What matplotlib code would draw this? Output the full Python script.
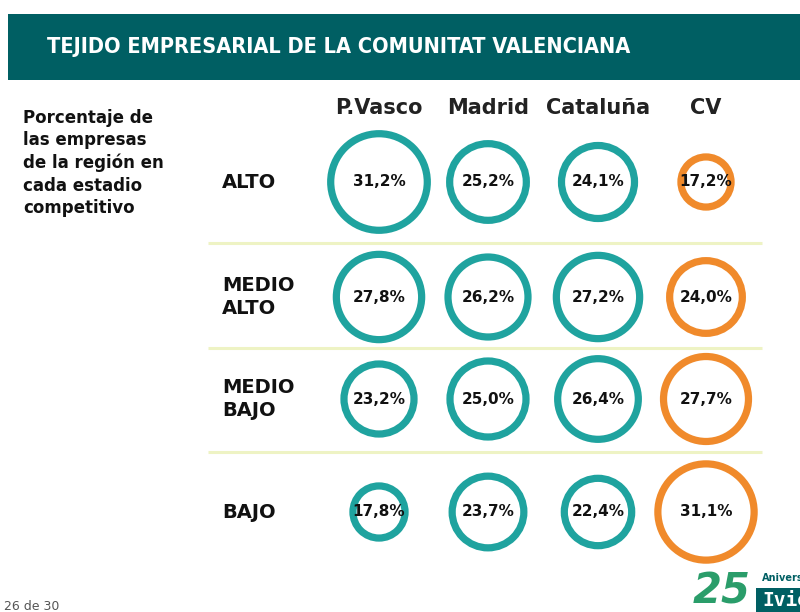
import matplotlib.pyplot as plt
from matplotlib.patches import Circle, Rectangle

regions = ['P.Vasco', 'Madrid', 'Cataluña', 'CV']
stages = ['ALTO', 'MEDIO\nALTO', 'MEDIO\nBAJO', 'BAJO']
# percentage of firms per region in each competitive stage
pvasco = [31.2, 27.8, 23.2, 17.8]
madrid = [25.2, 26.2, 25.0, 23.7]
cataluna = [24.1, 27.2, 26.4, 22.4]
cv = [17.2, 24.0, 27.7, 31.1]
values = [pvasco, madrid, cataluna, cv]

teal = '#1fa39f'
orange = '#f08a2b'
header_col = '#005f63'

col_x = [379, 488, 598, 706]
row_y = [182, 297, 399, 512]
sep_y = [243, 348, 452]

fig = plt.figure(figsize=(8, 6.12), dpi=100)
ax = fig.add_axes([0, 0, 1, 1])
ax.set_xlim(0, 800)
ax.set_ylim(612, 0)
ax.axis('off')

# header band
ax.add_patch(Rectangle((8, 14), 800, 66, color=header_col, lw=0))
ax.text(47, 47, 'TEJIDO EMPRESARIAL DE LA COMUNITAT VALENCIANA', color='white',
        fontsize=15.6, fontweight='bold', va='center', ha='left',
        family='DejaVu Sans', fontstretch='condensed')

ax.text(23, 163, 'Porcentaje de\nlas empresas\nde la región en\ncada estadio\ncompetitivo',
        fontsize=12, fontweight='bold', va='center', ha='left', linespacing=1.3,
        color='#111111')

for x, name in zip(col_x, regions):
    ax.text(x, 108, name, fontsize=15, fontweight='bold', ha='center', va='center',
            color='#222222')

for y, name in zip(row_y, stages):
    ax.text(222, y, name, fontsize=14, fontweight='bold', ha='left', va='center',
            color='#111111', linespacing=1.25)

for y in sep_y:
    ax.plot([208, 762], [y, y], color='#eef3c4', lw=2.2, solid_capstyle='butt')

for j, (x, col_vals) in enumerate(zip(col_x, values)):
    color = orange if regions[j] == 'CV' else teal
    for y, v in zip(row_y, col_vals):
        r = 1.66 * v - 3.5
        ax.add_patch(Circle((x, y), r, fill=False, ec=color, lw=5.2))
        ax.text(x, y, f'{v:.1f}%'.replace('.', ','), fontsize=11, fontweight='bold',
                ha='center', va='center', color='#111111')

ax.text(4, 606, '26 de 30', fontsize=9, color='#555555', ha='left', va='center')

# logo (cropped at the right edge as in the slide)
ax.text(722, 592, '25', fontsize=30, fontweight='bold', color='#2a9d6a',
        ha='center', va='center', fontstyle='italic')
ax.text(762, 578, 'Aniversario', fontsize=7, fontweight='bold', color='#005f63',
        ha='left', va='center')
ax.add_patch(Rectangle((756, 588), 50, 24, color=header_col, lw=0))
ax.text(762, 600, 'Ivie', fontsize=14, fontweight='bold', color='white',
        ha='left', va='center', family='DejaVu Sans Mono')

fig.savefig('out.png', dpi=100)
